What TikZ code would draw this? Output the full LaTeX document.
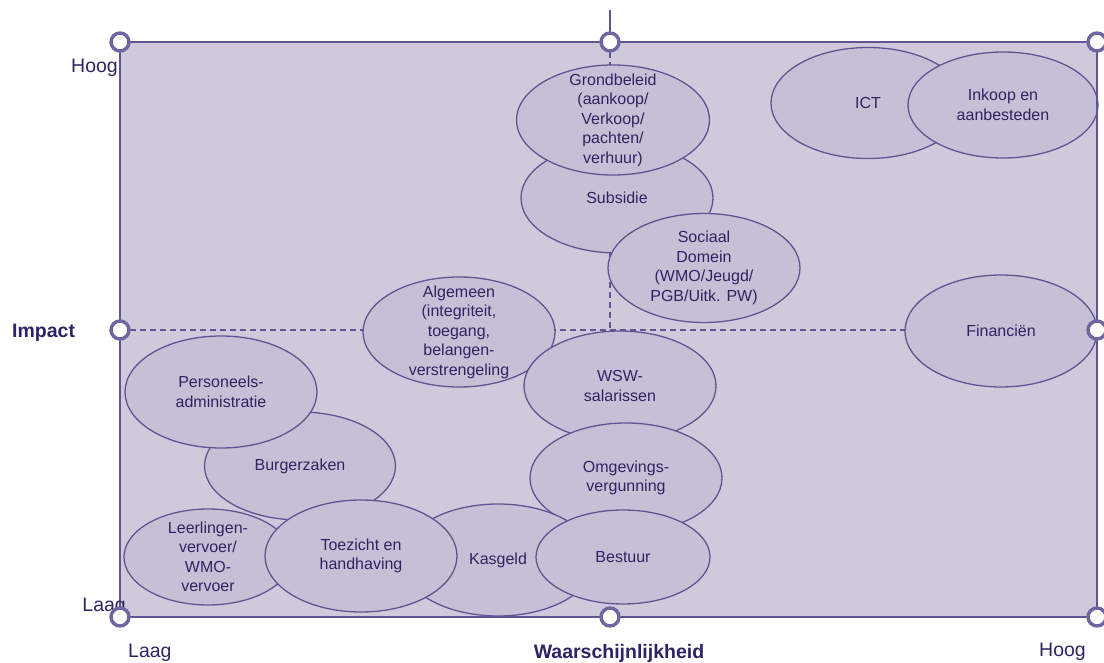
\documentclass[tikz,border=0pt]{standalone}
\usepackage{fontspec}
\setmainfont{Liberation Sans}
\usetikzlibrary{shapes.geometric}
\definecolor{matrixfill}{HTML}{CFC9DB}
\definecolor{bubblefill}{HTML}{C7BFD5}
\definecolor{framepurple}{HTML}{5F5594}
\definecolor{inkpurple}{HTML}{2E2464}

\tikzset{
  bubble/.style={ellipse, draw=framepurple, fill=bubblefill, line width=1.3pt, inner sep=0pt},
  bubbletext/.style={font=\fontsize{16}{19.5}\selectfont, text=inkpurple, align=center, inner sep=0pt},
  handle/.style={circle, draw=framepurple!90, fill=white, line width=3.4pt, minimum size=18pt, inner sep=0pt},
  axislabel/.style={font=\fontsize{19.5}{22}\selectfont, text=inkpurple, inner sep=0pt},
  guide/.style={framepurple, line width=1.3pt, dash pattern=on 6pt off 4pt}
}

% name, x, y, width, height, text
\newcommand{\riskbubble}[6]{%
  \node[bubble, minimum width=#4pt, minimum height=#5pt] (#1) at (#2,#3) {};
  \node[bubbletext] (#1-txt) at (#1.center) {#6};
}

\begin{document}
\begin{tikzpicture}[x=1pt, y=-1pt]
    \useasboundingbox (0,0) rectangle (1104,663);
    % Matrix area
    \fill[matrixfill] (120,42) rectangle (1097,617);
    % Quadrant guides
    \coordinate (topmid) at (610,42);
    \coordinate (botmid) at (610,617);
    \coordinate (leftmid) at (120,330);
    \coordinate (rightmid) at (1097,330);
    \coordinate (centre) at (610,330);
    \draw[guide] (leftmid) -- (rightmid);
    \draw[guide] (topmid) -- (centre);

    % Risk bubbles (later ones lie on top)
    \riskbubble{subsidie}{617}{198}{192}{110}{Subsidie}
    \riskbubble{grond}{613}{120}{193}{110}{Grondbeleid\\(aankoop/\\Verkoop/\\pachten/\\verhuur)}
    \riskbubble{sociaal}{704}{268}{192}{109}{Sociaal\\Domein\\(WMO/Jeugd/\\PGB/Uitk. PW)}
    \riskbubble{ict}{868}{103}{194}{111}{ICT}
    \riskbubble{inkoop}{1003}{105}{190}{106}{Inkoop en\\aanbesteden}
    \riskbubble{financien}{1001}{331}{192}{112}{Financiën}
    \riskbubble{algemeen}{459}{332}{192}{110}{Algemeen\\(integriteit,\\toegang,\\belangen-\\verstrengeling}
    \riskbubble{wsw}{620}{386}{192}{110}{WSW-\\salarissen}
    \riskbubble{omgeving}{626}{478}{192}{110}{Omgevings-\\vergunning}
    \riskbubble{burgerzaken}{300}{466}{191}{108}{Burgerzaken}
    \riskbubble{personeel}{221}{392}{192}{112}{Personeels-\\administratie}
    \riskbubble{leerlingen}{208}{557}{168}{96}{Leerlingen-\\vervoer/\\WMO-\\vervoer}
    \riskbubble{kasgeld}{498}{560}{194}{112}{Kasgeld}
    \riskbubble{bestuur}{623}{557}{174}{94}{Bestuur}
    \riskbubble{toezicht}{361}{556}{192}{112}{Toezicht en\\handhaving}

    % Frame
    \draw[framepurple, line width=2.2pt] (120,42) rectangle (1097,617);
    \coordinate (rotate) at (610,10);
    \draw[framepurple, line width=1.3pt] (rotate) -- (topmid);

    % Axis labels
    \node[axislabel, anchor=east] (impacthigh) at (118,68) {Hoog};
    \node[axislabel, anchor=east] (impactlow) at (126,607) {Laag};
    \node[axislabel, anchor=west, font=\fontsize{19.5}{22}\selectfont\bfseries] (impact) at (12,333) {Impact};
    \node[axislabel, anchor=west] (kanslow) at (128,653) {Laag};
    \node[axislabel, anchor=west] (kanshigh) at (1039,652) {Hoog};
    \node[axislabel, font=\fontsize{19.5}{22}\selectfont\bfseries] (kans) at (619,653) {Waarschijnlijkheid};

    % Selection handles
    \foreach \hx/\hy [count=\i] in {120/42, 610/42, 1097/42, 120/330, 1097/330, 120/617, 610/617, 1097/617}{
      \node[handle] (handle\i) at (\hx,\hy) {};
    }
\end{tikzpicture}
\end{document}
